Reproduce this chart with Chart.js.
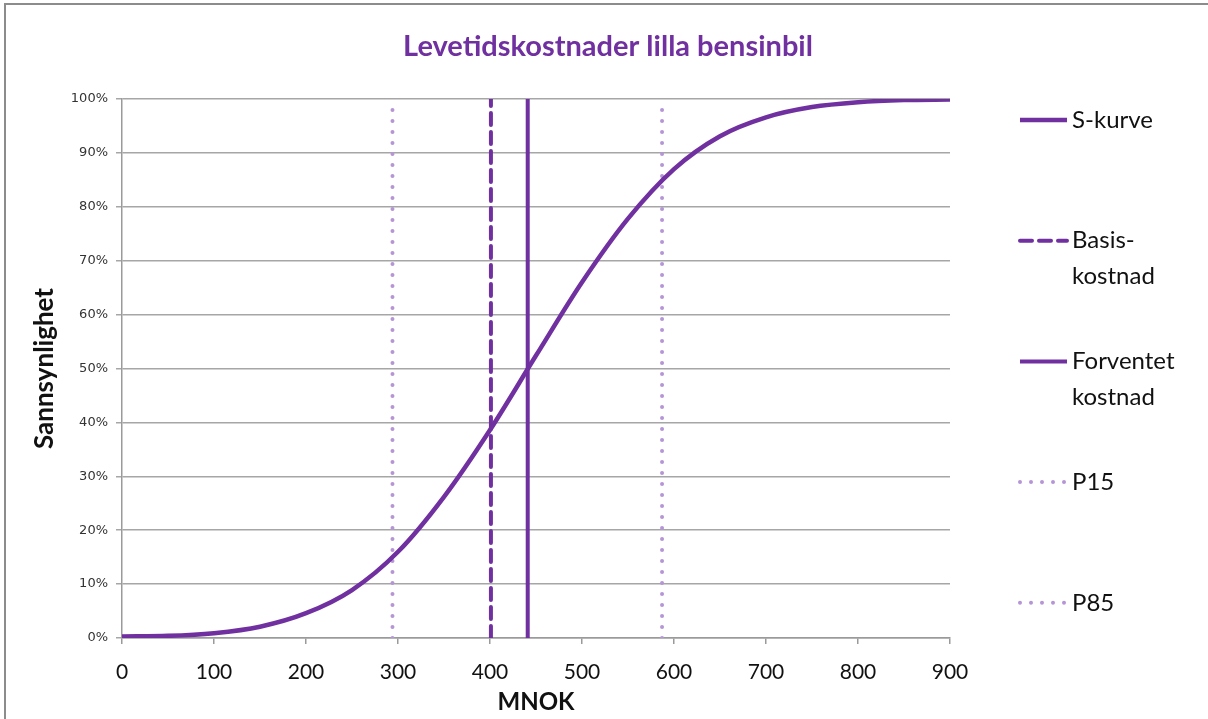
<!DOCTYPE html>
<html>
<head>
<meta charset="utf-8">
<script src="https://cdn.jsdelivr.net/npm/chart.js@4"></script>
<style>
  html, body { margin: 0; padding: 0; background: #fff; overflow: hidden; }
  #ramme { position: absolute; left: 4px; top: 3px; width: 1300px; height: 800px;
           border-top: 2px solid #8c8c8c; border-left: 2px solid #8c8c8c; }
  #wrap { position: absolute; left: 0; top: 0; width: 1208px; height: 719px; }
</style>
</head>
<body>
<div id="ramme"></div>
<div id="wrap"><canvas id="sKurve"></canvas></div>
<script>
// S-kurve lest av figuren (MNOK -> sannsynlighet)
const mnok = [0, 50, 100, 150, 200, 250, 300, 350, 400, 450, 500, 550, 600, 650, 700, 750, 800, 850, 900];
const sannsynlighet = [0.003, 0.004, 0.009, 0.021, 0.046, 0.089, 0.16, 0.262, 0.386, 0.524, 0.66, 0.778, 0.87, 0.931, 0.966, 0.985, 0.994, 0.998, 0.999];

// Vertikale linjer
const basiskostnad = 401;
const forventet = 441;
const p15 = 294;
const p85 = 587;

const xTicks = [0, 100, 200, 300, 400, 500, 600, 700, 800, 900];
const yTicks = [0, 0.1, 0.2, 0.3, 0.4, 0.5, 0.6, 0.7, 0.8, 0.9, 1];

const tittel = 'Levetidskostnader lilla bensinbil';
const legendTekst = [['S-kurve'], ['Basis-', 'kostnad'], ['Forventet', 'kostnad'], ['P15'], ['P85']];

const lilla = '#7030a0';
const lysLilla = '#b595d6';

function vertikal(x) {
  return [{ x: x, y: 0 }, { x: x, y: 1 }];
}

// tittel + legend tegnes selv
const egenTegning = {
  id: 'egenTegning',
  afterDraw(chart) {
    const c = chart.ctx;
    c.save();
    c.fillStyle = lilla;
    c.font = 'bold 29px Lato';
    c.textAlign = 'center';
    c.textBaseline = 'middle';
    c.fillText(tittel, 608, 47);

    chart.data.datasets.forEach((ds, i) => {
      const y = 120 + i * 120.7;
      c.beginPath();
      c.strokeStyle = ds.borderColor;
      c.lineWidth = ds.borderWidth;
      c.lineCap = ds.borderCapStyle || 'butt';
      c.setLineDash(ds.borderDash || []);
      c.moveTo(1020, y);
      c.lineTo(1067, y);
      c.stroke();
      c.setLineDash([]);
      c.fillStyle = '#111';
      c.font = '24px Lato';
      c.textAlign = 'left';
      legendTekst[i].forEach((t, j) => c.fillText(t, 1072, y + j * 36));
    });
    c.restore();
  }
};

const ctx = document.getElementById('sKurve');
new Chart(ctx, {
  type: 'line',
  data: {
    datasets: [
      {
        label: 'S-kurve',
        data: mnok.map((x, i) => ({ x: x, y: sannsynlighet[i] })),
        borderColor: lilla, borderWidth: 4.5, pointRadius: 0,
        cubicInterpolationMode: 'monotone'
      },
      {
        label: 'Basiskostnad',
        data: vertikal(basiskostnad),
        borderColor: lilla, borderWidth: 4, pointRadius: 0,
        borderDash: [12, 7], borderCapStyle: 'round'
      },
      {
        label: 'Forventet kostnad',
        data: vertikal(forventet),
        borderColor: lilla, borderWidth: 4, pointRadius: 0
      },
      {
        label: 'P15',
        data: vertikal(p15),
        borderColor: lysLilla, borderWidth: 4, pointRadius: 0,
        borderDash: [0, 11], borderCapStyle: 'round'
      },
      {
        label: 'P85',
        data: vertikal(p85),
        borderColor: lysLilla, borderWidth: 4, pointRadius: 0,
        borderDash: [0, 11], borderCapStyle: 'round'
      }
    ]
  },
  options: {
    responsive: true,
    maintainAspectRatio: false,
    animation: false,
    layout: { padding: { top: 99, right: 258, left: 0, bottom: 0 } },
    plugins: {
      legend: { display: false },
      title: { display: false },
      tooltip: { enabled: false }
    },
    scales: {
      x: {
        type: 'linear', min: 0, max: 900,
        afterBuildTicks: s => { s.ticks = xTicks.map(v => ({ value: v })); },
        afterFit: s => { s.height = 81; },
        ticks: { color: '#111', font: { family: 'Lato', size: 21 }, padding: 16 },
        grid: { drawOnChartArea: false, color: '#9a9a9a', tickLength: 6, lineWidth: 1.5 },
        border: { color: '#9a9a9a', width: 1.5 },
        title: { display: true, text: 'MNOK', color: '#111', font: { family: 'Lato', size: 24, weight: 'bold' }, padding: { top: 0, bottom: 2 } }
      },
      y: {
        type: 'linear', min: 0, max: 1,
        afterBuildTicks: s => { s.ticks = yTicks.map(v => ({ value: v })); },
        afterFit: s => { s.width = 122; },
        ticks: {
          color: '#333', font: { family: 'DejaVu Sans', size: 13 }, padding: 8,
          callback: v => Math.round(v * 100) + '%'
        },
        grid: { color: '#a6a6a6', tickLength: 6, lineWidth: 1.5 },
        border: { color: '#9a9a9a', width: 1.5 },
        title: { display: true, text: 'Sannsynlighet', color: '#111', font: { family: 'Lato', size: 26, weight: 'bold' }, padding: { top: 29, bottom: 0 } }
      }
    }
  },
  plugins: [egenTegning]
});
</script>
</body>
</html>
